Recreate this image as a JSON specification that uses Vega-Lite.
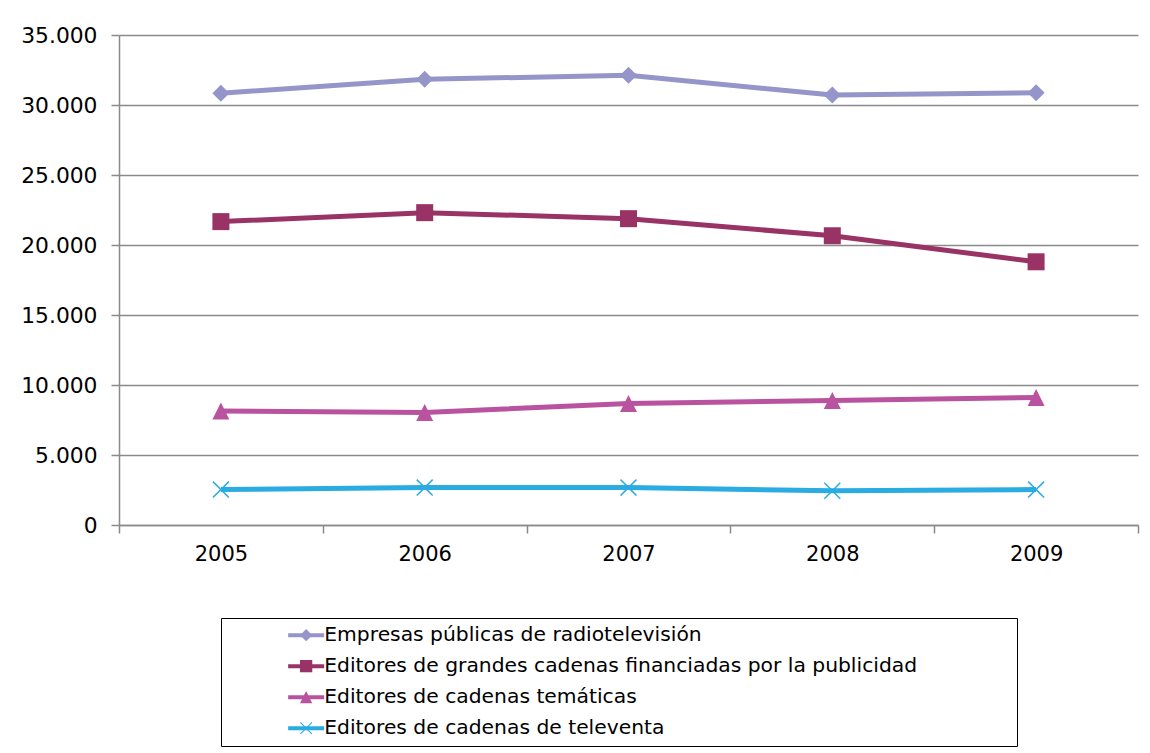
{
  "$schema": "https://vega.github.io/schema/vega-lite/v6.json",
  "width": 1019,
  "height": 490,
  "autosize": {"type": "none"},
  "padding": {"left": 119, "top": 35, "right": 12, "bottom": 228},
  "background": "white",
  "data": {
    "values": [
      {"year": "2005", "series": "Empresas públicas de radiotelevisión", "value": 30840},
      {"year": "2006", "series": "Empresas públicas de radiotelevisión", "value": 31840},
      {"year": "2007", "series": "Empresas públicas de radiotelevisión", "value": 32120},
      {"year": "2008", "series": "Empresas públicas de radiotelevisión", "value": 30710},
      {"year": "2009", "series": "Empresas públicas de radiotelevisión", "value": 30870},
      {"year": "2005", "series": "Editores de grandes cadenas financiadas por la publicidad", "value": 21670},
      {"year": "2006", "series": "Editores de grandes cadenas financiadas por la publicidad", "value": 22310},
      {"year": "2007", "series": "Editores de grandes cadenas financiadas por la publicidad", "value": 21880},
      {"year": "2008", "series": "Editores de grandes cadenas financiadas por la publicidad", "value": 20660},
      {"year": "2009", "series": "Editores de grandes cadenas financiadas por la publicidad", "value": 18800},
      {"year": "2005", "series": "Editores de cadenas temáticas", "value": 8140},
      {"year": "2006", "series": "Editores de cadenas temáticas", "value": 8030},
      {"year": "2007", "series": "Editores de cadenas temáticas", "value": 8680},
      {"year": "2008", "series": "Editores de cadenas temáticas", "value": 8890},
      {"year": "2009", "series": "Editores de cadenas temáticas", "value": 9110},
      {"year": "2005", "series": "Editores de cadenas de televenta", "value": 2530},
      {"year": "2006", "series": "Editores de cadenas de televenta", "value": 2670},
      {"year": "2007", "series": "Editores de cadenas de televenta", "value": 2670},
      {"year": "2008", "series": "Editores de cadenas de televenta", "value": 2450},
      {"year": "2009", "series": "Editores de cadenas de televenta", "value": 2530}
    ]
  },
  "encoding": {
    "x": {
      "field": "year", "type": "ordinal",
      "scale": {"paddingInner": 0, "paddingOuter": 0},
      "axis": {
        "title": null, "labelAngle": 0, "tickBand": "extent", "grid": false,
        "domainColor": "#8a8a8a", "domainWidth": 1.5, "tickColor": "#8a8a8a", "tickWidth": 1.5, "tickSize": 8,
        "labelFont": "DejaVu Sans", "labelFontSize": 21, "labelColor": "#000000", "labelPadding": 10
      }
    },
    "y": {
      "field": "value", "type": "quantitative",
      "scale": {"domain": [0, 35000], "nice": false, "zero": true},
      "axis": {
        "title": null, "values": [0, 5000, 10000, 15000, 20000, 25000, 30000, 35000],
        "labelExpr": "replace(format(datum.value, ','), ',', '.')",
        "grid": true, "gridColor": "#8a8a8a", "gridWidth": 1.5,
        "domainColor": "#8a8a8a", "domainWidth": 1.5, "tickColor": "#8a8a8a", "tickWidth": 1.5, "tickSize": 8,
        "labelFont": "DejaVu Sans", "labelFontSize": 21.8, "labelColor": "#000000", "labelPadding": 14
      }
    }
  },
  "layer": [
    {
      "mark": {"type": "line", "strokeWidth": 5},
      "encoding": {
        "stroke": {
          "field": "series", "type": "nominal", "sort": null,
          "scale": {"range": ["#9595c9", "#993366", "#ba539f", "#2aabe2"]},
          "legend": {
            "title": null,
            "orient": "none",
            "legendX": 102,
            "legendY": 583,
            "padding": 7,
            "strokeColor": "#000000",
            "symbolType": "M-2.25,0H2.25",
            "symbolSize": 256,
            "symbolStrokeWidth": 4,
            "symbolOffset": 68,
            "labelOffset": 693,
            "rowPadding": 10,
            "labelFont": "DejaVu Sans",
            "labelFontSize": 20.3,
            "labelExpr": "''",
            "labelLimit": 1000
          }
        }
      }
    },
    {
      "mark": {"type": "point", "filled": true, "opacity": 1, "size": 289, "strokeWidth": 0},
      "encoding": {
        "color": {
          "field": "series", "type": "nominal",
          "scale": {
            "domain": ["Empresas públicas de radiotelevisión", "Editores de grandes cadenas financiadas por la publicidad", "Editores de cadenas temáticas", "Editores de cadenas de televenta"],
            "range": ["#9595c9", "#993366", "#ba539f", "#2aabe2"]
          },
          "legend": {
            "title": null,
            "orient": "none",
            "legendX": 102,
            "legendY": 583,
            "padding": 7,
            "symbolSize": 150,
            "symbolOffset": 68,
            "labelOffset": 8,
            "rowPadding": 10,
            "labelFont": "DejaVu Sans",
            "labelFontSize": 20.3,
            "labelColor": "#000000",
            "labelLimit": 1000
          }
        },
        "shape": {
          "field": "series", "type": "nominal", "legend": null,
          "scale": {
            "domain": ["Empresas públicas de radiotelevisión", "Editores de grandes cadenas financiadas por la publicidad", "Editores de cadenas temáticas", "Editores de cadenas de televenta"],
            "range": [
              "M0,-1L1,0L0,1L-1,0Z",
              "M-1,-1H1V1H-1Z",
              "M0,-1L1,1H-1Z",
              "M-1,-0.875L-0.875,-1L0,-0.125L0.875,-1L1,-0.875L0.125,0L1,0.875L0.875,1L0,0.125L-0.875,1L-1,0.875L-0.125,0Z"
            ]
          }
        }
      }
    }
  ],
  "config": {
    "view": {"stroke": null},
    "font": "DejaVu Sans"
  }
}
